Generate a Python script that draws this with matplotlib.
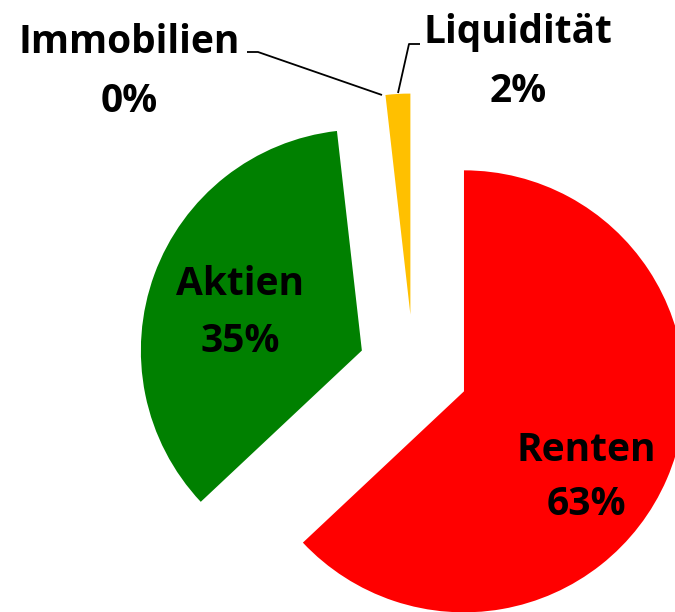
import matplotlib
matplotlib.use("Agg")
import matplotlib.pyplot as plt

# Daten
kategorien = ["Renten", "Aktien", "Liquidität", "Immobilien"]
anteile = [63.0, 35.2, 1.8, 0.0]
farben = ["#FF0000", "#008000", "#FFC000", "#4472C4"]

W, H = 675, 612

fig = plt.figure(figsize=(W / 100, H / 100), dpi=100)
ax = fig.add_axes([0, 0, 1, 1])

# Kreis in Pixel-Koordinaten (y nach oben)
mitte = (413.5, H - 369.5)
radius = 221
abstand = 55

ax.pie(anteile, colors=farben, startangle=90, counterclock=False,
       center=mitte, radius=radius, explode=[abstand] * len(anteile),
       wedgeprops=dict(linewidth=0))

ax.set_xlim(0, W)
ax.set_ylim(0, H)
ax.set_aspect("auto")
ax.axis("off")

schrift = dict(family="Open Sans", weight="bold", size=28, color="black",
               ha="center", va="baseline")

# Beschriftungen: (x, Grundlinie Name, Grundlinie Prozent) in Pixel von oben
pos = {
    "Renten": (586.5, 460.7, 515.0),
    "Aktien": (240.0, 295.0, 351.7),
    "Liquidität": (518.0, 43.3, 101.7),
    "Immobilien": (129.0, 52.7, 111.7),
}
for name, wert in zip(kategorien, anteile):
    x, y1, y2 = pos[name]
    ax.text(x, H - y1, name, **schrift)
    ax.text(x, H - y2, f"{wert:.0f}%", **schrift)

# Führungslinien
ax.plot([247, 258, 382], [H - 52, H - 52, H - 95], color="black", lw=1.3,
        solid_capstyle="butt")
ax.plot([420, 409, 398], [H - 44, H - 44, H - 93], color="black", lw=1.3,
        solid_capstyle="butt")

fig.savefig("out.png", dpi=100)
